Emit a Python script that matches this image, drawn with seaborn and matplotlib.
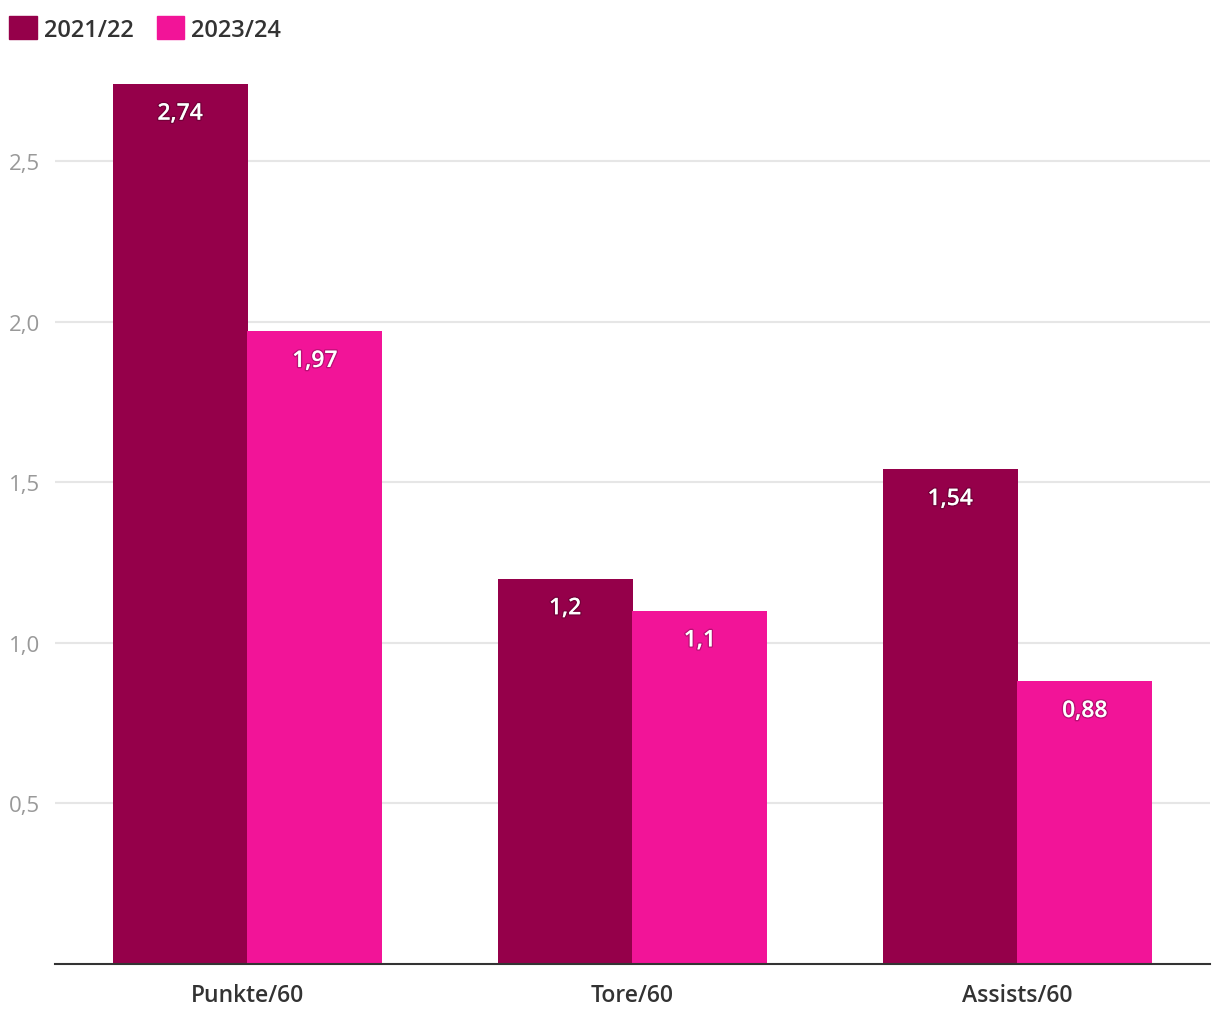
import matplotlib
matplotlib.use('Agg')
import matplotlib.pyplot as plt
import matplotlib.patheffects as pe
import seaborn as sns
import pandas as pd

categories = ['Punkte/60', 'Tore/60', 'Assists/60']
seasons = ['2021/22', '2023/24']
values_2122 = [2.74, 1.2, 1.54]
values_2324 = [1.97, 1.1, 0.88]
yticks = [0.5, 1.0, 1.5, 2.0, 2.5]

colors = ['#95004A', '#F21498']

df = pd.DataFrame({
    'cat': categories * 2,
    'season': [seasons[0]] * 3 + [seasons[1]] * 3,
    'value': values_2122 + values_2324,
})

sns.set_style('white')
plt.rcParams['font.family'] = ['Open Sans', 'DejaVu Sans']

fig = plt.figure(figsize=(12.2, 10.2), dpi=100)
ax = fig.add_axes([55 / 1220, 1 - 965 / 1020, 1155 / 1220, 880 / 1020])

sns.barplot(data=df, x='cat', y='value', hue='season', palette=colors,
            width=0.7, saturation=1, ax=ax, legend=False, zorder=3,
            linewidth=0, edgecolor='none')

ax.set_xlim(-0.5, 2.5)
ax.set_ylim(0, 2.74)
ax.set_yticks(yticks)
ax.set_yticklabels([f'{t:.1f}'.replace('.', ',') for t in yticks])
ax.tick_params(axis='y', length=0, labelsize=16, labelcolor='#999999', pad=11)
ax.tick_params(axis='x', length=0, labelsize=16.5, labelcolor='#333333', pad=14)
for lbl in ax.get_xticklabels():
    lbl.set_fontweight('semibold')
ax.set_xlabel('')
ax.set_ylabel('')
ax.grid(axis='y', color='#e6e6e6', linewidth=1.5, zorder=0)
for s in ['top', 'right', 'left']:
    ax.spines[s].set_visible(False)
ax.spines['bottom'].set_color('#333333')
ax.spines['bottom'].set_linewidth(1.5)
ax.spines['bottom'].set_zorder(4)

shadow = [pe.withStroke(linewidth=2, foreground=(0, 0, 0, 0.22))]
for cont, vals in zip(ax.containers, [values_2122, values_2324]):
    labels = [f'{v:g}'.replace('.', ',') for v in vals]
    texts = ax.bar_label(cont, labels=labels, padding=-30, color='white',
                         fontsize=16.5, fontweight='semibold')
    for t in texts:
        t.set_path_effects(shadow)

# legend drawn at the top left
handles = [plt.Rectangle((0, 0), 1, 1, color=c) for c in colors]
fig.legend(handles, seasons, loc='upper left', bbox_to_anchor=(-0.002, 0.995),
           ncol=2, frameon=False, prop={'size': 17, 'weight': 'semibold'},
           handlelength=1.15, handleheight=1.15, handletextpad=0.3,
           columnspacing=1.0, labelcolor='#333333', borderaxespad=0.1)

fig.savefig('out.png', dpi=100)
